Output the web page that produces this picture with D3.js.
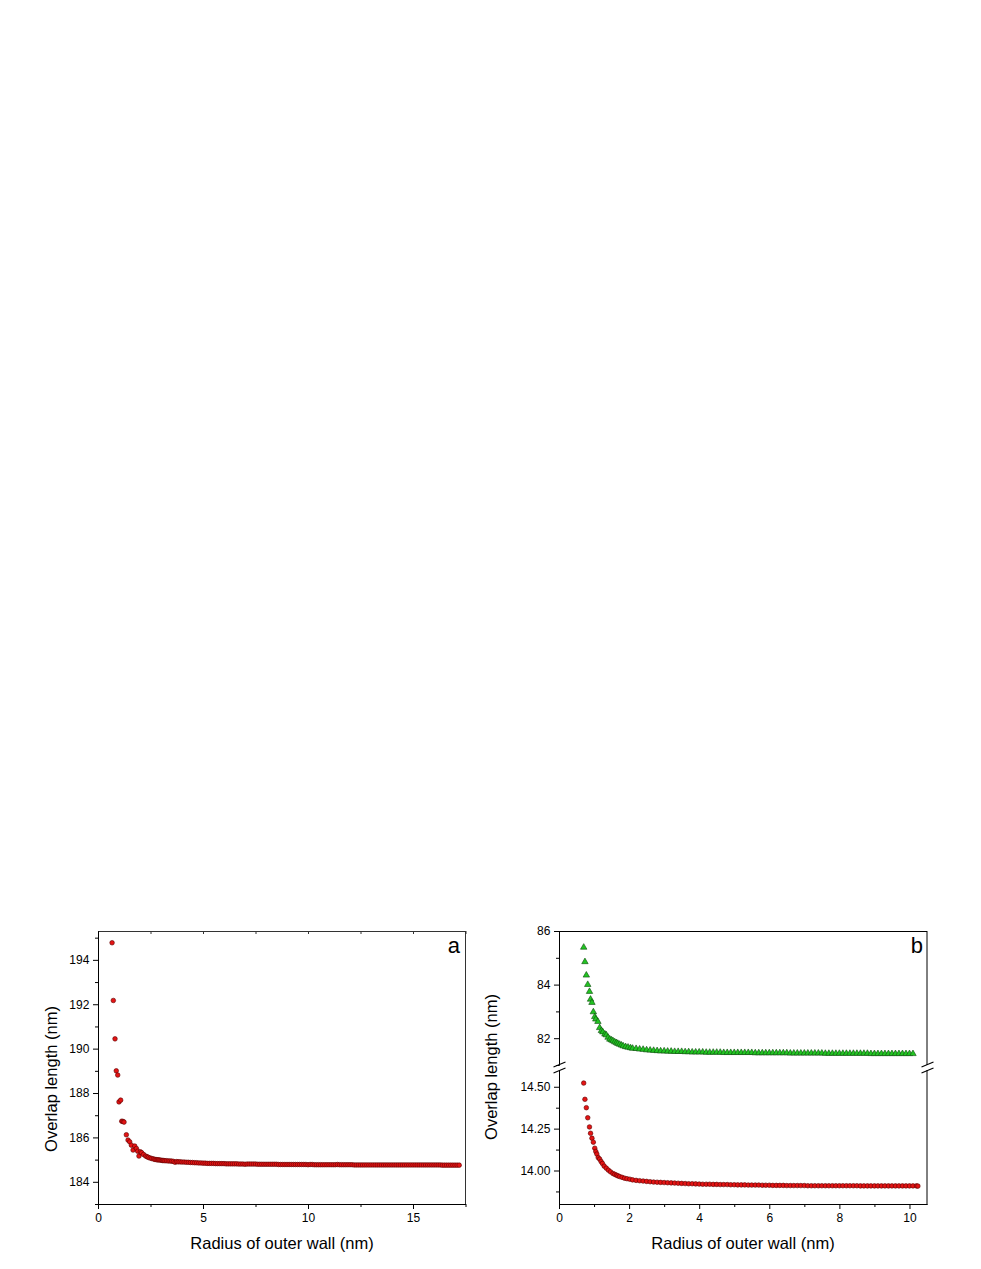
<!DOCTYPE html>
<html>
<head>
<meta charset="utf-8">
<script src="https://cdn.jsdelivr.net/npm/d3@7"></script>
<style>
  body { margin: 0; background: #fff; }
  text { font-family: "Liberation Sans", Arial, sans-serif; }
</style>
</head>
<body>
<div id="chart"></div>
<script>
// ---- panel a : single series (radius, overlap length)
const aPoints = [
  [0.67,194.77],[0.73,192.17],[0.81,190.44],[0.87,189.00],[0.94,188.81],
  [1.00,187.60],[1.08,187.68],[1.13,186.73],[1.19,186.72],[1.24,186.69],
  [1.35,186.12],[1.43,185.88],[1.51,185.80],[1.59,185.65],[1.67,185.43],
  [1.75,185.61],[1.83,185.50],[1.89,185.38],[1.95,185.16],[2.02,185.35],
  [2.08,185.31],[2.17,185.23],[2.27,185.16],[2.34,185.13],[2.40,185.10],
  [2.48,185.07],[2.56,185.05],[2.64,185.03],[2.71,185.01],[2.77,185.00],
  [2.83,184.99],[2.89,184.99],[2.95,184.98],[3.01,184.97],[3.07,184.96],
  [3.13,184.96],[3.19,184.95],[3.27,184.95],[3.35,184.94],[3.43,184.94],
  [3.51,184.93],[3.59,184.92],[3.67,184.88],[3.75,184.91],[3.82,184.90],[3.91,184.90],
  [4.0,184.89],[4.1,184.89],[4.2,184.88],[4.3,184.88],[4.4,184.87],[4.5,184.87],[4.6,184.86],[4.7,184.86],[4.8,184.85],[4.9,184.85],
  [5.0,184.84],[5.1,184.84],[5.2,184.83],[5.3,184.83],[5.4,184.83],[5.5,184.83],[5.6,184.82],[5.7,184.82],[5.8,184.82],[5.9,184.82],
  [6.0,184.82],[6.1,184.81],[6.2,184.81],[6.3,184.81],[6.4,184.81],[6.5,184.81],[6.6,184.81],[6.7,184.80],[6.8,184.80],[6.9,184.80],
  [7.0,184.79],[7.1,184.80],[7.2,184.80],[7.3,184.80],[7.4,184.80],[7.5,184.80],[7.6,184.79],[7.7,184.79],[7.8,184.79],[7.9,184.79],
  [8.0,184.79],[8.1,184.79],[8.2,184.79],[8.3,184.79],[8.4,184.79],[8.5,184.79],[8.6,184.78],[8.7,184.78],[8.8,184.78],[8.9,184.78],
  [9.0,184.78],[9.1,184.78],[9.2,184.78],[9.3,184.78],[9.4,184.78],[9.5,184.78],[9.6,184.78],[9.7,184.78],[9.8,184.78],[9.9,184.78],
  [10.0,184.77],[10.1,184.78],[10.2,184.78],[10.3,184.77],[10.4,184.77],[10.5,184.77],[10.6,184.77],[10.7,184.77],[10.8,184.77],[10.9,184.77],
  [11.0,184.77],[11.1,184.77],[11.2,184.77],[11.3,184.77],[11.4,184.78],[11.5,184.77],[11.6,184.77],[11.7,184.77],[11.8,184.77],[11.9,184.77],
  [12.0,184.77],[12.1,184.77],[12.2,184.76],[12.3,184.76],[12.4,184.76],[12.5,184.76],[12.6,184.76],[12.7,184.76],[12.8,184.76],[12.9,184.76],
  [13.0,184.76],[13.1,184.76],[13.2,184.76],[13.3,184.76],[13.4,184.76],[13.5,184.76],[13.6,184.76],[13.7,184.76],[13.8,184.76],[13.9,184.76],
  [14.0,184.76],[14.1,184.76],[14.2,184.76],[14.3,184.76],[14.4,184.76],[14.5,184.76],[14.6,184.76],[14.7,184.76],[14.8,184.76],[14.9,184.76],
  [15.0,184.76],[15.1,184.76],[15.2,184.76],[15.3,184.76],[15.4,184.76],[15.5,184.76],[15.6,184.76],[15.7,184.76],[15.8,184.76],[15.9,184.76],
  [16.0,184.76],[16.1,184.76],[16.2,184.76],[16.3,184.76],[16.4,184.75],[16.5,184.75],[16.6,184.75],[16.7,184.75],[16.8,184.75],[16.9,184.75],
  [17.0,184.75],[17.1,184.75],[17.2,184.75]
];
const aXTicks = [0, 5, 10, 15];
const aXMinor = [2.5, 7.5, 12.5, 17.5];
const aYTicks = [184, 186, 188, 190, 192, 194];
const aYMinor = [183, 185, 187, 189, 191, 193, 195];

// ---- panel b : upper (green triangles) and lower (red circles) series
const bGreen = [
  [0.705,85.39],[0.74,84.85],[0.78,84.35],[0.82,84.00],[0.87,83.74],[0.90,83.45],
  [0.94,83.33],[0.98,82.98],[1.02,82.80],[1.05,82.71],[1.11,82.62],[1.16,82.39],
  [1.21,82.28],[1.25,82.23],[1.31,82.15],[1.35,82.12],[1.40,82.03],[1.45,81.96],
  [1.50,81.93],[1.54,81.90],[1.59,81.86],[1.64,81.83],[1.68,81.80],[1.73,81.77],
  [1.78,81.74],[1.83,81.71],[1.90,81.68],[1.97,81.66],[2.04,81.64],
  [2.1,81.62],[2.2,81.61],[2.3,81.59],[2.4,81.58],[2.5,81.56],[2.6,81.55],[2.7,81.54],[2.8,81.53],[2.9,81.52],[3.0,81.52],
  [3.1,81.51],[3.2,81.51],[3.3,81.50],[3.4,81.50],[3.5,81.50],[3.6,81.49],[3.7,81.49],[3.8,81.48],[3.9,81.48],[4.0,81.48],
  [4.1,81.48],[4.2,81.47],[4.3,81.47],[4.4,81.47],[4.5,81.47],[4.6,81.47],[4.7,81.46],[4.8,81.46],[4.9,81.46],[5.0,81.46],
  [5.1,81.46],[5.2,81.46],[5.3,81.46],[5.4,81.46],[5.5,81.46],[5.6,81.45],[5.7,81.45],[5.8,81.45],[5.9,81.45],[6.0,81.45],
  [6.1,81.45],[6.2,81.45],[6.3,81.45],[6.4,81.45],[6.5,81.45],[6.6,81.44],[6.7,81.44],[6.8,81.44],[6.9,81.44],[7.0,81.44],
  [7.1,81.44],[7.2,81.44],[7.3,81.44],[7.4,81.44],[7.5,81.44],[7.6,81.43],[7.7,81.43],[7.8,81.43],[7.9,81.43],[8.0,81.43],
  [8.1,81.43],[8.2,81.43],[8.3,81.43],[8.4,81.43],[8.5,81.43],[8.6,81.43],[8.7,81.43],[8.8,81.43],[8.9,81.42],[9.0,81.42],
  [9.1,81.42],[9.2,81.42],[9.3,81.42],[9.4,81.42],[9.5,81.42],[9.6,81.42],[9.7,81.42],[9.8,81.42],[9.9,81.42],[10.0,81.42],
  [10.1,81.42]
];
const bRed = [
  [0.705,14.522],[0.74,14.425],[0.78,14.375],[0.82,14.315],[0.87,14.260],[0.90,14.222],
  [0.94,14.193],[0.98,14.169],[1.02,14.133],[1.05,14.113],[1.08,14.098],[1.12,14.077],
  [1.16,14.068],[1.20,14.054],[1.24,14.042],[1.29,14.026],[1.35,14.014],[1.41,14.002],
  [1.47,13.992],[1.54,13.982],[1.59,13.977],[1.64,13.972],[1.68,13.968],[1.73,13.964],
  [1.80,13.959],[1.87,13.954],[1.94,13.951],[2.02,13.948],
  [2.1,13.944],[2.2,13.941],[2.3,13.939],[2.4,13.937],[2.5,13.935],[2.6,13.933],[2.7,13.931],[2.8,13.930],[2.9,13.929],[3.0,13.928],
  [3.1,13.927],[3.2,13.926],[3.3,13.925],[3.4,13.924],[3.5,13.923],[3.6,13.922],[3.7,13.921],[3.8,13.921],[3.9,13.920],[4.0,13.919],
  [4.1,13.918],[4.2,13.918],[4.3,13.918],[4.4,13.917],[4.5,13.917],[4.6,13.916],[4.7,13.916],[4.8,13.916],[4.9,13.915],[5.0,13.915],
  [5.1,13.914],[5.2,13.914],[5.3,13.914],[5.4,13.913],[5.5,13.913],[5.6,13.913],[5.7,13.913],[5.8,13.912],[5.9,13.912],[6.0,13.912],
  [6.1,13.911],[6.2,13.911],[6.3,13.911],[6.4,13.911],[6.5,13.910],[6.6,13.910],[6.7,13.910],[6.8,13.910],[6.9,13.910],[7.0,13.910],
  [7.1,13.909],[7.2,13.909],[7.3,13.909],[7.4,13.909],[7.5,13.909],[7.6,13.909],[7.7,13.909],[7.8,13.909],[7.9,13.909],[8.0,13.909],
  [8.1,13.909],[8.2,13.909],[8.3,13.909],[8.4,13.909],[8.5,13.909],[8.6,13.908],[8.7,13.908],[8.8,13.908],[8.9,13.908],[9.0,13.908],
  [9.1,13.908],[9.2,13.908],[9.3,13.908],[9.4,13.908],[9.5,13.908],[9.6,13.908],[9.7,13.908],[9.8,13.908],[9.9,13.908],[10.0,13.908],
  [10.1,13.908],[10.2,13.908],[10.24,13.907]
];
const bXTicks = [0, 2, 4, 6, 8, 10];
const bXMinor = [1, 3, 5, 7, 9];
const bUpTicks = [82, 84, 86];
const bUpMinor = [81, 83, 85];
const bLoTicks = [14.00, 14.25, 14.50];
const bLoMinor = [13.875, 14.125, 14.375];

const width = 981;
const height = 1269;
const plotTop = 931, plotBottom = 1204;

const svg = d3.select("#chart").append("svg")
  .attr("width", width)
  .attr("height", height);

function styleAxis(g) {
  g.select(".domain").attr("stroke", "#000");
  g.selectAll(".tick line").attr("stroke", "#000");
  g.selectAll("text").attr("font-size", "12px").attr("fill", "#000")
    .attr("font-family", "'Liberation Sans', Arial, sans-serif");
}

const redFill = "#e41414", redStroke = "#5a0000";
const greenFill = "#22c422", greenStroke = "#0b4a0b";

// ================= panel a =================
const xA = d3.scaleLinear().domain([0, 17.5]).range([98, 465.5]);
const yA = d3.scaleLinear().domain([183, 195.3]).range([plotBottom, plotTop]);

// frame (top + right)
svg.append("line").attr("x1", 98).attr("x2", 465.5).attr("y1", plotTop + 0.5).attr("y2", plotTop + 0.5)
  .attr("stroke", "#333");
svg.append("line").attr("x1", 465.5).attr("x2", 465.5).attr("y1", plotTop).attr("y2", plotBottom)
  .attr("stroke", "#333");

// top inward ticks
svg.append("g")
  .attr("transform", `translate(0,${plotTop})`)
  .call(d3.axisTop(xA).tickValues(aXTicks.concat(aXMinor)).tickSize(-3).tickSizeOuter(0).tickFormat(""))
  .call(g => g.select(".domain").remove())
  .selectAll("line").attr("stroke", "#333");

svg.append("g")
  .attr("transform", `translate(0,${plotBottom})`)
  .call(d3.axisBottom(xA).tickValues(aXMinor).tickSize(3).tickSizeOuter(0).tickFormat(""))
  .call(styleAxis);
svg.append("g")
  .attr("transform", `translate(0,${plotBottom})`)
  .call(d3.axisBottom(xA).tickValues(aXTicks).tickSize(5).tickPadding(4.5).tickSizeOuter(0).tickFormat(d3.format("d")))
  .call(styleAxis);

svg.append("g")
  .attr("transform", `translate(98,0)`)
  .call(d3.axisLeft(yA).tickValues(aYMinor).tickSize(3).tickSizeOuter(0).tickFormat(""))
  .call(styleAxis);
svg.append("g")
  .attr("transform", `translate(98,0)`)
  .call(d3.axisLeft(yA).tickValues(aYTicks).tickSize(5).tickPadding(3.7).tickSizeOuter(0).tickFormat(d3.format("d")))
  .call(styleAxis);

svg.selectAll(".dot-a")
  .data(aPoints)
  .enter()
  .append("circle")
    .attr("class", "dot-a")
    .attr("cx", d => xA(d[0]))
    .attr("cy", d => yA(d[1]))
    .attr("r", 2.3)
    .attr("fill", redFill)
    .attr("stroke", redStroke)
    .attr("stroke-width", 0.6);

svg.append("text")
  .attr("x", 460).attr("y", 953)
  .attr("text-anchor", "end")
  .attr("font-size", "22px")
  .text("a");

svg.append("text")
  .attr("x", 282).attr("y", 1248.5)
  .attr("text-anchor", "middle")
  .attr("font-size", "16.5px")
  .text("Radius of outer wall (nm)");

svg.append("text")
  .attr("transform", "translate(57,1079) rotate(-90)")
  .attr("text-anchor", "middle")
  .attr("font-size", "16.5px")
  .text("Overlap length (nm)");

// ================= panel b =================
const bLeft = 559, bRight = 927;
const upBottom = 1065, loTop = 1070;
const xB = d3.scaleLinear().domain([0, 10.5]).range([bLeft, bRight]);
const yUp = d3.scaleLinear().domain([81, 86]).range([upBottom, plotTop]);
const yLo = d3.scaleLinear().domain([13.8, 14.6]).range([plotBottom, loTop]);

// frame: top line and broken right line
svg.append("line").attr("x1", bLeft).attr("x2", bRight).attr("y1", plotTop + 0.5).attr("y2", plotTop + 0.5)
  .attr("stroke", "#000");
svg.append("line").attr("x1", bRight).attr("x2", bRight).attr("y1", plotTop).attr("y2", upBottom)
  .attr("stroke", "#000");
svg.append("line").attr("x1", bRight).attr("x2", bRight).attr("y1", loTop).attr("y2", plotBottom)
  .attr("stroke", "#000");

svg.append("g")
  .attr("transform", `translate(0,${plotBottom})`)
  .call(d3.axisBottom(xB).tickValues(bXMinor).tickSize(3).tickSizeOuter(0).tickFormat(""))
  .call(styleAxis);
svg.append("g")
  .attr("transform", `translate(0,${plotBottom})`)
  .call(d3.axisBottom(xB).tickValues(bXTicks).tickSize(5).tickPadding(4.5).tickSizeOuter(0).tickFormat(d3.format("d")))
  .call(styleAxis);

svg.append("g")
  .attr("transform", `translate(${bLeft},0)`)
  .call(d3.axisLeft(yUp).tickValues(bUpMinor).tickSize(3).tickSizeOuter(0).tickFormat(""))
  .call(styleAxis);
svg.append("g")
  .attr("transform", `translate(${bLeft},0)`)
  .call(d3.axisLeft(yUp).tickValues(bUpTicks).tickSize(5).tickPadding(3.6).tickSizeOuter(0).tickFormat(d3.format("d")))
  .call(styleAxis);

svg.append("g")
  .attr("transform", `translate(${bLeft},0)`)
  .call(d3.axisLeft(yLo).tickValues(bLoMinor).tickSize(3).tickSizeOuter(0).tickFormat(""))
  .call(styleAxis);
svg.append("g")
  .attr("transform", `translate(${bLeft},0)`)
  .call(d3.axisLeft(yLo).tickValues(bLoTicks).tickSize(5).tickPadding(3.6).tickSizeOuter(0).tickFormat(d3.format(".2f")))
  .call(styleAxis);

// axis break marks on both sides
[bLeft + 0.5, bRight + 0.5].forEach(x => {
  [upBottom - 0.5, loTop + 0.5].forEach(y => {
    svg.append("line")
      .attr("x1", x - 6).attr("y1", y + 2.5)
      .attr("x2", x + 6).attr("y2", y - 2.5)
      .attr("stroke", "#000")
      .attr("stroke-width", 1.1);
  });
});

svg.selectAll(".tri-b")
  .data(bGreen)
  .enter()
  .append("path")
    .attr("class", "tri-b")
    .attr("d", d3.symbol().type(d3.symbolTriangle).size(18))
    .attr("transform", d => `translate(${xB(d[0])},${yUp(d[1])})`)
    .attr("fill", greenFill)
    .attr("stroke", greenStroke)
    .attr("stroke-width", 0.6);

svg.selectAll(".dot-b")
  .data(bRed)
  .enter()
  .append("circle")
    .attr("class", "dot-b")
    .attr("cx", d => xB(d[0]))
    .attr("cy", d => yLo(d[1]))
    .attr("r", 2.3)
    .attr("fill", redFill)
    .attr("stroke", redStroke)
    .attr("stroke-width", 0.6);

svg.append("text")
  .attr("x", 923).attr("y", 953)
  .attr("text-anchor", "end")
  .attr("font-size", "22px")
  .text("b");

svg.append("text")
  .attr("x", 743).attr("y", 1248.5)
  .attr("text-anchor", "middle")
  .attr("font-size", "16.5px")
  .text("Radius of outer wall (nm)");

svg.append("text")
  .attr("transform", "translate(497,1067) rotate(-90)")
  .attr("text-anchor", "middle")
  .attr("font-size", "16.5px")
  .text("Overlap length (nm)");
</script>
</body>
</html>
